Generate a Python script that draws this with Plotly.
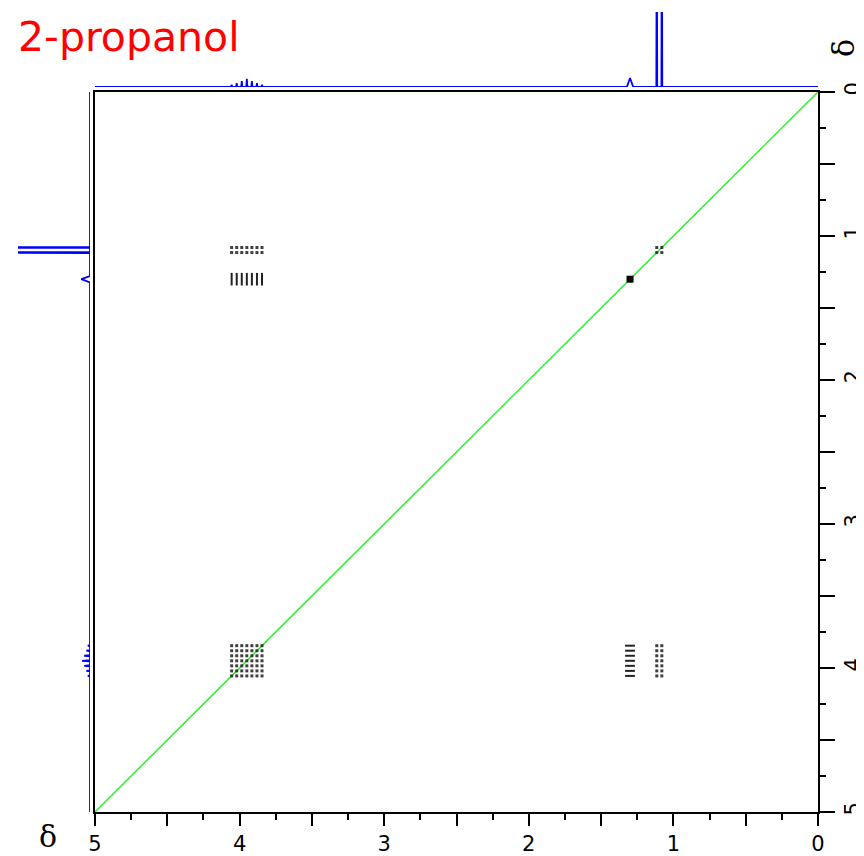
import plotly.graph_objects as go

# 1H lines of 2-propanol (ppm) and relative intensities
ch_ppm = [3.845, 3.88, 3.915, 3.95, 3.985, 4.02, 4.055]   # CH septet
ch_int = [3, 5, 8, 11, 8, 5, 3]
ch3_ppm = [1.08, 1.115]                                  # CH3 doublet
ch3_int = [300, 300]
oh_ppm = [1.30]                                          # OH singlet
oh_int = [12]

axis_ticks = [0, 0.5, 1, 1.5, 2, 2.5, 3, 3.5, 4, 4.5, 5]
axis_text = ["0", "", "1", "", "2", "", "3", "", "4", "", "5"]
diag = [0, 5]

BLUE = "#0000ff"
GREEN = "#2cf02c"
DOT = "rgba(30,30,30,0.85)"

# page has an 8px body margin, so the figure is shifted; let it run to the window edge
OFF = 8
W, H = 864 - OFF, 856 - OFF


def px(x):
    return (x - OFF) / W


def py(y):
    return 1 - (y - OFF) / H


def spectrum(ppm, inten, half):
    # stick spectrum: each line is a narrow peak on a zero baseline
    pk = sorted(zip(ppm, inten, half))
    xs, ys = [0], [0]
    for p, h, w in pk:
        xs += [p - w, p, p + w]
        ys += [0, h, 0]
    xs.append(5)
    ys.append(0)
    return xs, ys


all_ppm = ch_ppm + ch3_ppm + oh_ppm
all_int = ch_int + ch3_int + oh_int
all_w = [0.004] * len(ch_ppm) + [0.003] * len(ch3_ppm) + [0.022]
sx, sy = spectrum(all_ppm, all_int, all_w)

fig = go.Figure()

# diagonal
fig.add_trace(go.Scatter(x=diag, y=diag, mode="lines",
                         line=dict(color=GREEN, width=1.5), hoverinfo="skip"))


def grid(xp, yp):
    gx, gy = [], []
    for a in xp:
        for b in yp:
            gx.append(a)
            gy.append(b)
    return gx, gy


# dotted cross peaks / diagonal peaks (multiplet x multiplet)
for xp, yp in [(ch_ppm, ch_ppm), (ch_ppm, ch3_ppm), (ch3_ppm, ch_ppm), (ch3_ppm, ch3_ppm)]:
    gx, gy = grid(xp, yp)
    fig.add_trace(go.Scatter(x=gx, y=gy, mode="markers", hoverinfo="skip",
                             marker=dict(symbol="square", size=3, color=DOT, line=dict(width=0))))

# OH (broad) couplings with CH show as bars
gx, gy = grid(ch_ppm, oh_ppm)
fig.add_trace(go.Scatter(x=gx, y=gy, mode="markers", hoverinfo="skip",
                         marker=dict(symbol="line-ns", size=9, line=dict(width=2, color="#222"))))
gx, gy = grid(oh_ppm, ch_ppm)
fig.add_trace(go.Scatter(x=gx, y=gy, mode="markers", hoverinfo="skip",
                         marker=dict(symbol="line-ew", size=7, line=dict(width=2, color="#222"))))
# OH diagonal peak
fig.add_trace(go.Scatter(x=oh_ppm, y=oh_ppm, mode="markers", hoverinfo="skip",
                         marker=dict(symbol="square", size=7, color="black", line=dict(width=0))))

# top 1D projection
fig.add_trace(go.Scatter(x=sx, y=sy, xaxis="x2", yaxis="y2", mode="lines",
                         line=dict(color=BLUE, width=1.8), hoverinfo="skip"))
# left 1D projection
fig.add_trace(go.Scatter(x=sy, y=sx, xaxis="x3", yaxis="y3", mode="lines",
                         line=dict(color=BLUE, width=1.8), hoverinfo="skip"))

tick_font = dict(family="DejaVu Sans", size=21, color="black")
minor_ticks = dict(tickmode="linear", tick0=0, dtick=0.25, ticks="outside",
                   ticklen=6, tickwidth=2, tickcolor="black")

fig.update_layout(
    template="none",
    width=W, height=H,
    margin=dict(l=0, r=0, t=0, b=0, pad=0),
    paper_bgcolor="white", plot_bgcolor="white",
    showlegend=False,
    xaxis=dict(domain=[px(95), px(818)], range=[5, 0], showgrid=False, zeroline=False,
               automargin=False,
               showline=True, linecolor="black", linewidth=2, mirror=True,
               tickmode="array", tickvals=axis_ticks, ticktext=axis_text,
               ticks="outside", ticklen=12, tickwidth=2, tickcolor="black",
               tickfont=tick_font, minor=minor_ticks),
    yaxis=dict(domain=[py(812), py(92)], range=[5, 0], side="right",
               showgrid=False, zeroline=False, automargin=False,
               showline=True, linecolor="black", linewidth=2, mirror=True,
               tickmode="array", tickvals=axis_ticks, ticktext=axis_text,
               ticks="outside", ticklen=15, tickwidth=2, tickcolor="black",
               tickangle=-90, tickfont=tick_font, minor=minor_ticks),
    xaxis2=dict(domain=[px(95), px(818)], range=[5, 0], anchor="y2", visible=False),
    yaxis2=dict(domain=[py(87), py(12)], range=[0, 100], anchor="x2", visible=False),
    xaxis3=dict(domain=[px(18), px(90)], range=[100, 0], anchor="y3", visible=False),
    yaxis3=dict(domain=[py(812), py(92)], range=[5, 0], anchor="x3", visible=False),
    annotations=[
        dict(text="2-propanol", x=px(16), y=py(11), xref="paper", yref="paper",
             xanchor="left", yanchor="top", showarrow=False,
             font=dict(family="DejaVu Sans", size=41, color="#ff0000")),
        dict(text="δ", x=px(48), y=py(836), xref="paper", yref="paper",
             xanchor="center", yanchor="middle", showarrow=False,
             font=dict(family="DejaVu Serif", size=30, color="black")),
        dict(text="δ", x=px(844), y=py(48), xref="paper", yref="paper",
             xanchor="center", yanchor="middle", showarrow=False, textangle=-90,
             font=dict(family="DejaVu Serif", size=30, color="black")),
    ],
)

fig.write_html("out.html")
